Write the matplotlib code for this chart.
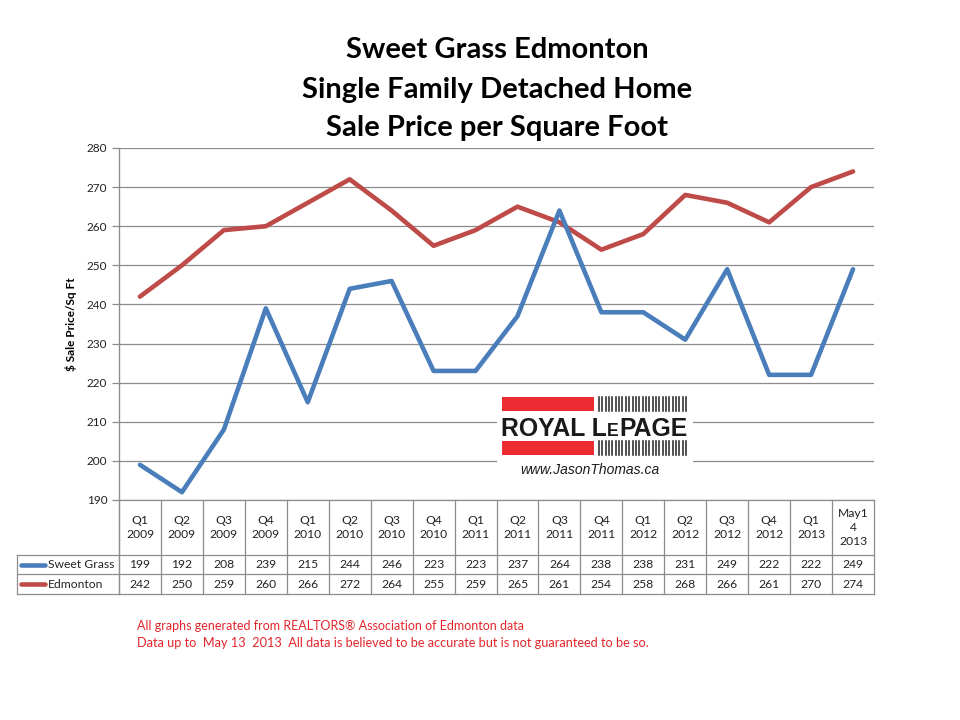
import matplotlib.pyplot as plt
from matplotlib.transforms import blended_transform_factory
from matplotlib.patches import Rectangle

periods = ["Q1\n2009", "Q2\n2009", "Q3\n2009", "Q4\n2009", "Q1\n2010", "Q2\n2010",
           "Q3\n2010", "Q4\n2010", "Q1\n2011", "Q2\n2011", "Q3\n2011", "Q4\n2011",
           "Q1\n2012", "Q2\n2012", "Q3\n2012", "Q4\n2012", "Q1\n2013", "May1\n4\n2013"]
sweet_grass = [199, 192, 208, 239, 215, 244, 246, 223, 223, 237, 264, 238, 238, 231, 249, 222, 222, 249]
edmonton = [242, 250, 259, 260, 266, 272, 264, 255, 259, 265, 261, 254, 258, 268, 266, 261, 270, 274]

BLUE = '#4A7EBB'
RED = '#BE4B48'
GRID = '#8C8C8C'
FONT = 'Lato'

W, H = 960, 720
fig = plt.figure(figsize=(9.6, 7.2), dpi=100)


def fx(px):
    return px / W


def fy(py):
    return 1 - py / H


ax = fig.add_axes([fx(119), fy(500), fx(874) - fx(119), fy(148) - fy(500)])
x = list(range(len(periods)))
ax.plot(x, edmonton, color=RED, lw=3.3, solid_capstyle='round', zorder=3)
ax.plot(x, sweet_grass, color=BLUE, lw=3.3, solid_capstyle='round', zorder=3)
ax.set_xlim(-0.5, len(periods) - 0.5)
ax.set_ylim(190, 280)
ax.set_yticks(range(190, 281, 10))
ax.set_xticks([])
ax.grid(axis='y', color=GRID, lw=0.9)
ax.set_axisbelow(True)
for s in ['top', 'right', 'bottom']:
    ax.spines[s].set_visible(False)
ax.spines['left'].set_color(GRID)
ax.tick_params(axis='y', colors=GRID, length=5, width=0.9, labelsize=8.5)
for lab in ax.get_yticklabels():
    lab.set_color('#222222')
    lab.set_fontfamily(FONT)
ax.set_ylabel("$ Sale Price/Sq Ft", fontsize=8.5, fontweight='bold', family=FONT, labelpad=7)

# title
for py, line in ((50, "Sweet Grass Edmonton"), (90, "Single Family Detached Home"),
                 (128, "Sale Price per Square Foot")):
    fig.text(fx(497), fy(py), line, ha='center', va='center',
             fontsize=21, fontweight='bold', family=FONT)

# data table below the plot
tr = blended_transform_factory(ax.transData, fig.transFigure)
n = len(periods)
left_col = -0.5 - (119 - 17) / (755 / n)
lk = dict(color=GRID, lw=0.9, transform=tr, clip_on=False)
ax.plot([-0.5, -0.5], [fy(148), fy(594)], **lk)
for i in range(n + 1):
    ax.plot([i - 0.5, i - 0.5], [fy(500), fy(594)], **lk)
ax.plot([left_col, left_col], [fy(555), fy(594)], **lk)
ax.plot([-0.5, n - 0.5], [fy(500), fy(500)], **lk)
for py in (555, 574, 594):
    ax.plot([left_col, n - 0.5], [fy(py), fy(py)], **lk)
for i, p in enumerate(periods):
    ax.text(i, fy(527.5), p, ha='center', va='center', fontsize=8.7, family=FONT,
            transform=tr, linespacing=1.35, color='#222222')
    ax.text(i, fy(564.5), str(sweet_grass[i]), ha='center', va='center', fontsize=8.7,
            family=FONT, transform=tr, color='#222222')
    ax.text(i, fy(584), str(edmonton[i]), ha='center', va='center', fontsize=8.7,
            family=FONT, transform=tr, color='#222222')
for py, col, name in ((564.5, BLUE, "Sweet Grass"), (584, RED, "Edmonton")):
    fig.add_artist(plt.Line2D([fx(21), fx(45)], [fy(py), fy(py)], color=col, lw=3.3,
                              solid_capstyle='round'))
    fig.text(fx(48), fy(py), name, ha='left', va='center', fontsize=8.7, family=FONT,
             color='#222222')

# logo
fig.add_artist(Rectangle((fx(497), fy(468)), fx(196), fy(395) - fy(468), facecolor='white',
                         edgecolor='none', transform=fig.transFigure, zorder=4))
for top in (397, 441):
    fig.add_artist(Rectangle((fx(502), fy(top + 14)), fx(92), fy(top) - fy(top + 14),
                             facecolor='#EC2B33', edgecolor='none', transform=fig.transFigure,
                             zorder=5))
    for k in range(27):
        bx = 599 + k * 3.35
        fig.add_artist(plt.Line2D([fx(bx), fx(bx)], [fy(top + 14), fy(top)], color='#222222',
                                  lw=1.1, zorder=5))

renderer = fig.canvas.get_renderer()


def draw_logo_text(scale):
    parts = [("ROYAL L", 19 * scale), ("E", 13.5 * scale), ("PAGE", 19 * scale)]
    cur = 501
    arts = []
    for txt, size in parts:
        t = fig.text(fx(cur), fy(436), txt, ha='left', va='baseline', fontsize=size,
                     fontweight='bold', family='Liberation Sans', color='#1A1A1A', zorder=6)
        arts.append(t)
        bb = t.get_window_extent(renderer)
        cur = bb.x1 + (1 if txt == "E" else 0)
    return arts, cur


arts, right = draw_logo_text(1.0)
for a in arts:
    a.remove()
draw_logo_text((688 - 501) / (right - 501))

fig.text(fx(590), fy(470), "www.JasonThomas.ca", ha='center', va='center', fontsize=10,
         style='italic', family='Liberation Sans', color='#1A1A1A', zorder=6)

# footer
fig.text(fx(137), fy(626), "All graphs generated from REALTORS\u00ae Association of Edmonton data",
         ha='left', va='center', fontsize=9, family=FONT, color='#E3262B')
fig.text(fx(137), fy(643),
         "Data up to  May 13  2013  All data is believed to be accurate but is not guaranteed to be so.",
         ha='left', va='center', fontsize=9.2, family=FONT, color='#E3262B')

fig.savefig("out.png", dpi=100)
